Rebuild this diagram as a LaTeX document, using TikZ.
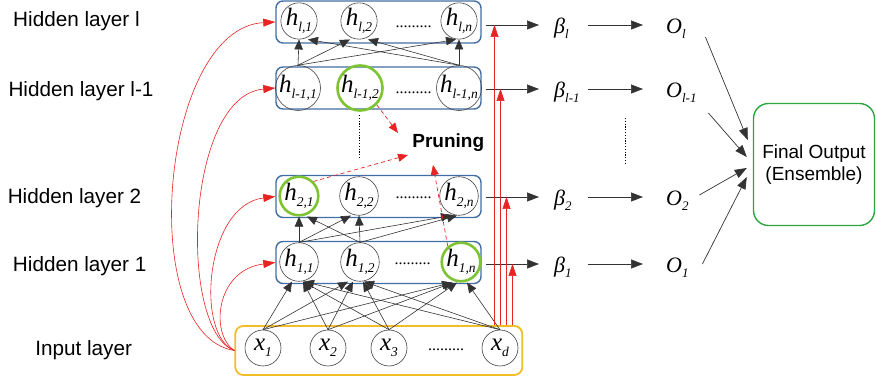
\documentclass[tikz,border=0pt]{standalone}
\usepackage{fontspec}
\setmainfont{Liberation Sans}
\newfontfamily\tms{Liberation Serif}
\usetikzlibrary{arrows.meta}
\definecolor{boxblue}{RGB}{66,110,165}
\definecolor{inyellow}{RGB}{242,190,40}
\definecolor{fingreen}{RGB}{45,165,65}
\definecolor{prgreen}{RGB}{125,195,50}
\definecolor{myred}{RGB}{232,35,35}
\newcommand\hv[2]{{\tms\itshape\fontsize{25}{25}\selectfont #1\raisebox{-5.5pt}{\fontsize{13.5}{13.5}\selectfont #2}}}
\newcommand\bo[2]{{\tms\itshape\fontsize{22}{22}\selectfont #1\raisebox{-5pt}{\fontsize{13}{13}\selectfont #2}}}
\begin{document}
\begin{tikzpicture}[x=1pt,y=-1pt,
  hbox/.style={draw=boxblue,line width=1.4pt,rounded corners=7pt,minimum width=205pt,minimum height=42pt,inner sep=0pt},
  neuron/.style={circle,draw=black!75,line width=0.6pt,minimum size=36pt,inner sep=0pt},
  pruned/.style={circle,draw=prgreen,line width=2.6pt,minimum size=37pt,inner sep=0pt},
  lab/.style={font=\fontsize{20.7}{24}\selectfont,anchor=base,inner sep=0pt},
  bnode/.style={anchor=west,inner sep=0pt,text width=34pt,align=left,text height=18pt,text depth=0pt},
  onode/.style={anchor=west,inner sep=0pt,text width=31pt,align=left,text height=18pt,text depth=0pt},
  conn/.style={draw=black!80,line width=0.6pt,-{Triangle[length=10pt,width=8.5pt]}},
  oarr/.style={draw=black!80,line width=0.7pt,-{Triangle[length=12pt,width=9pt]}},
  redc/.style={draw=myred,line width=0.6pt,-{Triangle[length=12pt,width=8pt]}},
  redd/.style={draw=myred,line width=0.7pt,dash pattern=on 4pt off 3pt,-{Triangle[length=10pt,width=8pt]}},
  dotsl/.style={font=\tms\fontsize{16}{16}\selectfont,anchor=base,inner sep=0pt},
  dotv/.style={draw=black,line width=0.8pt,dash pattern=on 1.2pt off 1.6pt},
]
\useasboundingbox (0,0) rectangle (876,379);

% layer labels
\node[lab] (Ll) at (76.5,27) {Hidden layer l};
\node[lab] (Lm) at (81,96.7) {Hidden layer l-1};
\node[lab] (L2) at (74.5,203.3) {Hidden layer 2};
\node[lab] (L1) at (79.7,271.7) {Hidden layer 1};
\node[lab] (Lin) at (83.7,356) {Input layer};

% boxes
\node[hbox] (Bl) at (378.5,22) {};
\node[hbox] (Bm) at (378.5,88) {};
\node[hbox] (B2) at (378.5,196.5) {};
\node[hbox] (B1) at (378.5,262.5) {};
\node[draw=inyellow,line width=1.8pt,rounded corners=8pt,minimum width=287pt,minimum height=49pt,inner sep=0pt] (inbox) at (378.8,350.5) {};

% neurons
\node[neuron] (hl1) at (299,21) {\hv{h}{l,1}};
\node[neuron] (hl2) at (359,21) {\hv{h}{l,2}};
\node[neuron] (hln) at (459,21) {\hv{h}{l,n}};
\node[neuron] (hm1) at (298,88) {\hv{h}{l-1,1}};
\node[pruned] (hm2) at (360,88) {\hv{h}{l-1,2}};
\node[neuron] (hmn) at (459,88) {\hv{h}{l-1,n}};
\node[pruned] (h21) at (299,196) {\hv{h}{2,1}};
\node[neuron] (h22) at (359,196) {\hv{h}{2,2}};
\node[neuron] (h2n) at (459,196) {\hv{h}{2,n}};
\node[neuron] (h11) at (299,262) {\hv{h}{1,1}};
\node[neuron] (h12) at (360,262) {\hv{h}{1,2}};
\node[pruned] (h1n) at (461,262) {\hv{h}{1,n}};
\node[neuron] (x1) at (263,348) {\hv{x}{1}};
\node[neuron] (x2) at (328,348) {\hv{x}{2}};
\node[neuron] (x3) at (389,348) {\hv{x}{3}};
\node[neuron] (xd) at (500,348) {\hv{x}{d}};

% dots
\node[dotsl] (dl) at (413.5,28) {.........};
\node[dotsl] (dm) at (413.5,94) {.........};
\node[dotsl] (d2) at (413.5,199) {.........};
\node[dotsl] (d1) at (412.5,265) {.........};
\node[dotsl] (dx) at (446,351) {.........};

% connections between layers
\foreach \s/\t/\d in {hm1/hl1/0, hm1/hl2/-9, hm1/hln/-3, hmn/hl1/9, hmn/hl2/9, hmn/hln/0,
                      h11/h21/0, h11/h22/-8, h11/h2n/-8, h12/h21/8, h12/h22/0, h12/h2n/-2,
                      x1/h11/-7, x2/h11/4, x3/h11/4, xd/h11/5,
                      x1/h12/-12, x2/h12/-7, x3/h12/3, xd/h12/4,
                      x1/h1n/-9, x2/h1n/-8, x3/h1n/-4, xd/h1n/6}
  \draw[conn] (\s.north) -- ([xshift=\d pt]\t.south);

% red skip curves
\draw[redc] (inbox.west) .. controls (135,335) and (160,28) .. (Bl.west);
\draw[redc] (inbox.west) .. controls (178,330) and (185,96) .. (Bm.west);
\draw[redc] (inbox.west) .. controls (195,335) and (205,205) .. (B2.west);
\draw[redc] (inbox.west) .. controls (210,335) and (215,270) .. (B1.west);

% beta and O
\node[bnode] (bl) at (554,25) {\bo{β}{l}};
\node[bnode] (bm) at (554,89) {\bo{β}{l-1}};
\node[bnode] (b2) at (554,197) {\bo{β}{2}};
\node[bnode] (b1) at (554,264) {\bo{β}{1}};
\node[onode] (Ol) at (666,25) {\bo{O}{l}};
\node[onode] (Om) at (666,89) {\bo{O}{l-1}};
\node[onode] (O2) at (666,197) {\bo{O}{2}};
\node[onode] (O1) at (666,264) {\bo{O}{1}};

\foreach \B/\b/\o in {Bl/bl/Ol, Bm/bm/Om, B2/b2/O2, B1/b1/O1}{
  \draw[oarr,shorten <=4pt,shorten >=15pt] (\B.east |- \b.west) -- (\b.west);
  \draw[oarr,shorten >=23pt] (\b.east) -- (\o.west);
}

% red vertical lines
\coordinate (r1) at ([xshift=-28.7pt]inbox.north east);
\coordinate (r2) at ([xshift=-22.7pt]inbox.north east);
\coordinate (r3) at ([xshift=-16.7pt]inbox.north east);
\coordinate (r4) at ([xshift=-10.7pt]inbox.north east);
\draw[redc] (r1) -- (r1 |- bl.west);
\draw[redc] (r2) -- (r2 |- bm.west);
\draw[redc] (r3) -- (r3 |- b2.west);
\draw[redc] (r4) -- (r4 |- b1.west);

% pruning
\node[font=\bfseries\fontsize{19}{22}\selectfont,anchor=base,inner sep=0pt] (prun) at (448.3,148) {Pruning};
\coordinate (p1) at (398,133);
\coordinate (p2) at (408,155);
\coordinate (p3) at (433,165);
\draw[redd] (hm2.south east) -- (p1);
\draw[redd] (h21.north east) -- (p2);
\draw[redd] (h1n.130) -- (p3);

% vertical dotted
\draw[dotv] (359,115) -- (359,159);
\draw[dotv] (625.7,118) -- (625.7,163);

% final output
\node[draw=fingreen,line width=1.4pt,rounded corners=15pt,minimum width=121pt,minimum height=122pt,align=center,inner sep=0pt,text depth=4pt,font=\fontsize{19}{22.6}\selectfont] (fin) at (814,164.5) {Final Output\\(Ensemble)};

\draw[oarr] ([shift={(8,12)}]Ol.east) -- ([shift={(-5,-24.5)}]fin.west);
\draw[oarr] ([shift={(11,24)}]Om.east) -- ([shift={(-6,-7.5)}]fin.west);
\draw[oarr] ([shift={(2,-2)}]O2.east) -- ([shift={(-6,3.5)}]fin.west);
\draw[oarr] ([shift={(5,0)}]O1.east) -- ([shift={(-6,12.5)}]fin.west);
\end{tikzpicture}
\end{document}
